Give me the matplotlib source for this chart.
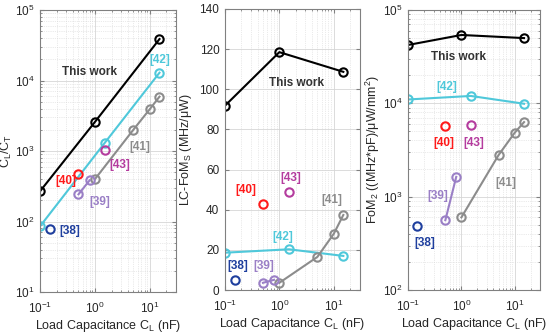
import matplotlib.pyplot as plt
import numpy as np

plt.rcParams['font.family'] = ['Liberation Sans', 'DejaVu Sans']
plt.rcParams['mathtext.fontset'] = 'custom'
plt.rcParams['mathtext.rm'] = 'Liberation Sans'
plt.rcParams['mathtext.it'] = 'Liberation Sans:italic'

# load capacitance (nF) for each work
cl_this = [0.1, 1, 15]
cl_42 = [0.1, 1.5, 15]
cl_41 = [1, 5, 10, 15]
cl_39 = [0.5, 0.8]
cl_40 = [0.5]
cl_43 = [1.5]
cl_38 = [0.15]

# panel 1: CL/CT
ratio_this = [270, 2590, 38700]
ratio_42 = [86, 1300, 12900]
ratio_41 = [400, 2000, 3930, 5900]
ratio_39 = [243, 385]
ratio_40 = [467]
ratio_43 = [1050]
ratio_38 = [78]

# panel 2: LC-FoMs
foms_this = [91.8, 118.5, 108.7]
foms_42 = [18.6, 20.3, 17.0]
foms_41 = [3.6, 16.5, 28.0, 37.4]
foms_39 = [3.6, 5.1]
foms_40 = [42.9]
foms_43 = [49.0]
foms_38 = [4.8]

# panel 3: FoM2
fom2_this = [42200, 54000, 50000]
fom2_42 = [11000, 12000, 9900]
fom2_41 = [600, 2800, 4840, 6300]
fom2_39 = [560, 1630]
fom2_40 = [5700]
fom2_43 = [5800]
fom2_38 = [485]

c_this = 'black'
c_42 = '#4fc8da'
c_41 = '#8c8c8c'
c_39 = '#9a7fc6'
c_40 = '#ff1a1a'
c_43 = '#b43c9e'
c_38 = '#1f3f9e'

fig = plt.figure(figsize=(5.5, 3.33), dpi=100)
ax1 = fig.add_axes([0.073, 0.123, 0.247, 0.847])
ax2 = fig.add_axes([0.409, 0.129, 0.245, 0.844])
ax3 = fig.add_axes([0.742, 0.129, 0.240, 0.841])


def draw(ax, ys):
    series = [(cl_this, c_this), (cl_42, c_42), (cl_41, c_41), (cl_39, c_39),
              (cl_40, c_40), (cl_43, c_43), (cl_38, c_38)]
    for (x, c), y in zip(series, ys):
        ax.plot(x, y, '-o', color=c, lw=1.5, ms=6, mfc='none', mew=1.5)
    ax.set_xscale('log')
    ax.set_xlim(0.1, 30)
    ax.grid(True, which='major', color='#d6d6d6', lw=0.6)
    ax.grid(True, which='minor', color='#d6d6d6', lw=0.5, ls=':')
    ax.set_axisbelow(True)
    ax.tick_params(which='both', direction='in', labelsize=8.5, colors='#262626',
                   top=True, right=True, pad=4)
    ax.tick_params(axis='x', which='both', pad=6)
    ax.tick_params(which='major', length=3)
    ax.tick_params(which='minor', length=1.5)
    ax.tick_params(which='both', color='#808080')
    for s in ax.spines.values():
        s.set_color('#808080')
    ax.set_xlabel('Load Capacitance C$_\\mathregular{L}$ (nF)', fontsize=9,
                  color='#262626', labelpad=2)


def label(ax, x, y, s, c):
    ax.text(x, y, s, color=c, fontsize=8.5, fontweight='bold', ha='center', va='center')


draw(ax1, [ratio_this, ratio_42, ratio_41, ratio_39, ratio_40, ratio_43, ratio_38])
ax1.set_yscale('log')
ax1.set_ylim(10, 1e5)
ax1.set_ylabel('C$_\\mathregular{L}$/C$_\\mathregular{T}$', fontsize=9, color='#262626', labelpad=1)
label(ax1, 0.8, 1.3e4, 'This work', '#333333')
label(ax1, 15.3, 1.95e4, '[42]', c_42)
label(ax1, 6.5, 1150, '[41]', c_41)
label(ax1, 2.8, 630, '[43]', c_43)
label(ax1, 0.29, 376, '[40]', c_40)
label(ax1, 1.24, 190, '[39]', c_39)
label(ax1, 0.34, 73, '[38]', c_38)

draw(ax2, [foms_this, foms_42, foms_41, foms_39, foms_40, foms_43, foms_38])
ax2.set_ylim(0, 140)
ax2.set_yticks(np.arange(0, 141, 20))
ax2.set_ylabel('LC-FoM$_\\mathregular{S}$ (MHz/μW)', fontsize=9, color='#262626', labelpad=4)
label(ax2, 2.03, 103, 'This work', '#333333')
label(ax2, 0.24, 50, '[40]', c_40)
label(ax2, 1.64, 56, '[43]', c_43)
label(ax2, 9.2, 45, '[41]', c_41)
label(ax2, 1.16, 26.5, '[42]', c_42)
label(ax2, 0.175, 12, '[38]', c_38)
label(ax2, 0.51, 12, '[39]', c_39)

draw(ax3, [fom2_this, fom2_42, fom2_41, fom2_39, fom2_40, fom2_43, fom2_38])
ax3.set_yscale('log')
ax3.set_ylim(100, 1e5)
ax3.set_ylabel('FoM$_\\mathregular{2}$ ((MHz*pF)/μW/mm$^\\mathregular{2}$)', fontsize=9,
               color='#262626', labelpad=1)
label(ax3, 0.9, 31300, 'This work', '#333333')
label(ax3, 0.52, 15000, '[42]', c_42)
label(ax3, 0.46, 3760, '[40]', c_40)
label(ax3, 1.7, 3760, '[43]', c_43)
label(ax3, 6.8, 1400, '[41]', c_41)
label(ax3, 0.355, 1010, '[39]', c_39)
label(ax3, 0.205, 318, '[38]', c_38)

fig.savefig('out.png', dpi=100)
